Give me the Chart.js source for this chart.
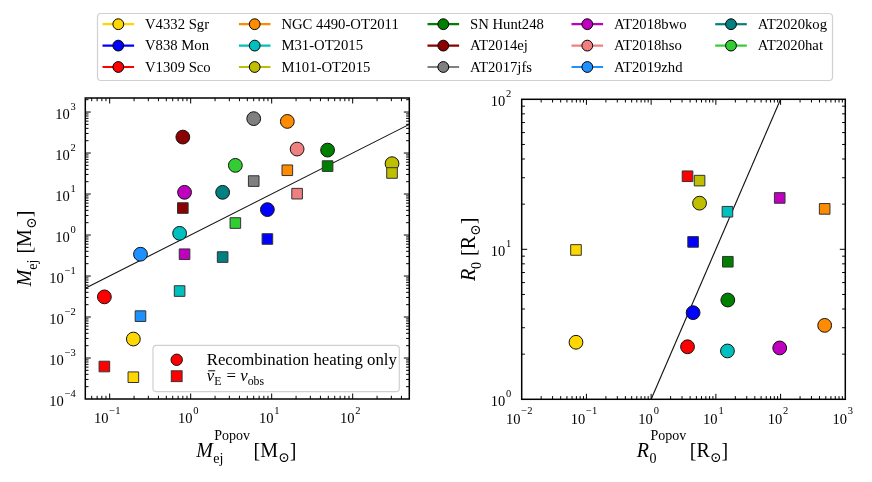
<!DOCTYPE html>
<html><head><meta charset="utf-8">
<script src="https://cdn.jsdelivr.net/npm/chart.js@4"></script>
<style>
html,body{margin:0;padding:0;background:#fff;}
#wrap{position:relative;width:872px;height:482px;overflow:hidden;}
canvas{position:absolute;left:0;top:0;}
</style></head><body>
<div id="wrap"><canvas id="left" width="872" height="482"></canvas><canvas id="right" width="872" height="482"></canvas></div>
<script>
// ---------- data ----------
const objectNames = ['V4332 Sgr','V838 Mon','V1309 Sco','NGC 4490-OT2011','M31-OT2015','M101-OT2015',
  'SN Hunt248','AT2014ej','AT2017jfs','AT2018bwo','AT2018hso','AT2019zhd','AT2020kog','AT2020hat'];
const objectColors = ['#FFD700','#0000FF','#FF0000','#FF8C00','#00BFBF','#BFBF00',
  '#008000','#8B0000','#808080','#BF00BF','#F08080','#1E90FF','#008080','#32CD32'];
// left panel: M_ej^Popov vs M_ej
const mEjPopov   = [0.196, 8.85, 0.086, 15.6, 0.73, 306, 49, 0.80, 6.0, 0.84, 20.6, 0.24, 2.48, 3.56];
const mEjRecomb  = [0.0029, 4.17, 0.031, 590, 1.10, 55, 118, 245, 690, 11.0, 125, 0.34, 11.0, 50];
const mEjVobs    = [0.00034, 0.80, 0.00062, 38, 0.043, 32.6, 48, 4.55, 20.7, 0.34, 10.2, 0.0105, 0.29, 1.96];
// right panel: R_0^Popov vs R_0
const rNames     = ['V4332 Sgr','V838 Mon','V1309 Sco','NGC 4490-OT2011','M31-OT2015','M101-OT2015','SN Hunt248','AT2018bwo'];
const r0Popov    = [0.069, 4.45, 3.65, 480, 15.1, 5.6, 15.3, 97];
const r0Recomb   = [2.40, 3.78, 2.24, 3.11, 2.10, 20.3, 4.59, 2.20];
const r0Vobs     = [9.9, 11.2, 30.7, 18.6, 17.8, 28.7, 8.26, 22.0];
// axes
const leftXRange = [0.05, 500], leftYRange = [1e-4, 2200];
const rightXRange = [0.01, 1000], rightYRange = [1, 100];
const leftXTickExp = [-1, 0, 1, 2];
const leftYTickExp = [-4, -3, -2, -1, 0, 1, 2, 3];
const rightXTickExp = [-2, -1, 0, 1, 2, 3];
const rightYTickExp = [0, 1, 2];
const oneToOneLeft = [0.05, 500];
const oneToOneRight = [1, 100];
const innerLegendLabels = ['Recombination heating only', 'vE=vobs'];

// ---------- style ----------
const SERIF = '"Liberation Serif","Times New Roman","DejaVu Serif",serif';
const TICK = 14.5, SUP = 10.5;
function font(s, it){ return (it ? 'italic ' : '') + s + 'px ' + SERIF; }

function drawPow(ctx, exp, x, y, align){
  const base = '10', sup = exp < 0 ? '\u2212' + (-exp) : String(exp);
  ctx.font = font(TICK); const w1 = ctx.measureText(base).width;
  ctx.font = font(SUP); const w2 = ctx.measureText(sup).width;
  const tot = w1 + w2 + 0.8;
  const x0 = align === 'right' ? x - tot : align === 'center' ? x - tot / 2 : x;
  ctx.textAlign = 'left'; ctx.textBaseline = 'alphabetic'; ctx.fillStyle = '#000';
  ctx.font = font(TICK); ctx.fillText(base, x0, y);
  ctx.font = font(SUP); ctx.fillText(sup, x0 + w1 + 0.8, y - 9.3);
}

function partWidth(ctx, p){
  if (p.stack) return Math.max(...p.stack.map(q => partWidth(ctx, q)));
  ctx.font = font(p.s, p.it); return ctx.measureText(p.t).width + (p.pad || 0);
}
function drawRich(ctx, parts, x, by, align){
  const ws = parts.map(p => partWidth(ctx, p));
  const tot = ws.reduce((a, b) => a + b, 0);
  let cx = align === 'left' ? x : x - tot / 2;
  const pos = [];
  ctx.textAlign = 'left'; ctx.textBaseline = 'alphabetic'; ctx.fillStyle = '#000';
  parts.forEach((p, i) => {
    const list = p.stack ? p.stack : [p];
    list.forEach(q => { ctx.font = font(q.s, q.it); ctx.fillText(q.t, cx + (q.dx || 0), by + (q.dy || 0)); });
    pos.push(cx); cx += ws[i];
  });
  return pos;
}

function drawAxesFrame(chart, xExp, yExp, yGap){
  const ctx = chart.ctx, a = chart.chartArea, xs = chart.scales.x, ys = chart.scales.y;
  ctx.save();
  ctx.strokeStyle = '#000';
  const tickSet = (sc) => {
    const out = [];
    const e0 = Math.floor(Math.log10(sc.min)) - 1, e1 = Math.ceil(Math.log10(sc.max));
    for (let e = e0; e <= e1; e++) for (let m = 1; m <= 9; m++) {
      const v = m * Math.pow(10, e);
      if (v > sc.min * 1.0001 && v < sc.max * 0.9999) out.push({p: sc.getPixelForValue(v), major: m === 1});
    }
    return out;
  };
  ctx.lineWidth = 1;
  tickSet(xs).forEach(t => {
    const L = t.major ? 5.5 : 3.2;
    ctx.beginPath();
    ctx.moveTo(t.p, a.bottom); ctx.lineTo(t.p, a.bottom - L);
    ctx.moveTo(t.p, a.top); ctx.lineTo(t.p, a.top + L);
    ctx.stroke();
  });
  tickSet(ys).forEach(t => {
    const L = t.major ? 5.5 : 3.2;
    ctx.beginPath();
    ctx.moveTo(a.left, t.p); ctx.lineTo(a.left + L, t.p);
    ctx.moveTo(a.right, t.p); ctx.lineTo(a.right - L, t.p);
    ctx.stroke();
  });
  ctx.lineWidth = 1.5;
  ctx.strokeRect(a.left, a.top, a.right - a.left, a.bottom - a.top);
  xExp.forEach(e => drawPow(ctx, e, xs.getPixelForValue(Math.pow(10, e)) - 2.5, a.bottom + 24.3, 'center'));
  yExp.forEach(e => drawPow(ctx, e, a.left - yGap, ys.getPixelForValue(Math.pow(10, e)) + 7, 'right'));
  ctx.restore();
}

function roundRect(ctx, x, y, w, h, r){
  ctx.beginPath();
  ctx.moveTo(x + r, y); ctx.lineTo(x + w - r, y); ctx.arcTo(x + w, y, x + w, y + r, r);
  ctx.lineTo(x + w, y + h - r); ctx.arcTo(x + w, y + h, x + w - r, y + h, r);
  ctx.lineTo(x + r, y + h); ctx.arcTo(x, y + h, x, y + h - r, r);
  ctx.lineTo(x, y + r); ctx.arcTo(x, y, x + r, y, r); ctx.closePath();
}

function drawTopLegend(ctx){
  const colX = [118.3, 254.7, 443.3, 587.3, 731];
  const rowY = [24.2, 45.6, 67.0];
  ctx.save();
  ctx.fillStyle = 'rgba(255,255,255,0.85)';
  ctx.strokeStyle = '#d0d0d0'; ctx.lineWidth = 1.2;
  roundRect(ctx, 97.5, 13.5, 735, 67, 3.5); ctx.fill(); ctx.stroke();
  objectNames.forEach((name, i) => {
    const cx = colX[Math.floor(i / 3)], cy = rowY[i % 3];
    ctx.strokeStyle = objectColors[i]; ctx.lineWidth = 2.2;
    ctx.beginPath(); ctx.moveTo(cx - 15.8, cy); ctx.lineTo(cx + 15.8, cy); ctx.stroke();
    ctx.beginPath(); ctx.arc(cx, cy, 5.4, 0, Math.PI * 2);
    ctx.fillStyle = objectColors[i]; ctx.fill();
    ctx.strokeStyle = '#000'; ctx.lineWidth = 1; ctx.stroke();
    ctx.fillStyle = '#000'; ctx.font = font(14.7); ctx.textAlign = 'left'; ctx.textBaseline = 'alphabetic';
    ctx.fillText(name, cx + 26.7, cy + 4.8);
  });
  ctx.restore();
}

function drawInnerLegend(ctx){
  ctx.save();
  ctx.fillStyle = 'rgba(255,255,255,0.85)'; ctx.strokeStyle = '#d0d0d0'; ctx.lineWidth = 1.2;
  roundRect(ctx, 153, 345.3, 246.3, 46.4, 3.5); ctx.fill(); ctx.stroke();
  ctx.beginPath(); ctx.arc(176.7, 359.8, 5.7, 0, Math.PI * 2);
  ctx.fillStyle = '#FF0000'; ctx.fill(); ctx.strokeStyle = '#111'; ctx.lineWidth = 1; ctx.stroke();
  ctx.fillRect(171.3, 370.8, 10.8, 10.8); ctx.strokeStyle = '#333'; ctx.strokeRect(171.3, 370.8, 10.8, 10.8);
  ctx.fillStyle = '#000'; ctx.font = font(16.8); ctx.textAlign = 'left'; ctx.textBaseline = 'alphabetic';
  ctx.fillText(innerLegendLabels[0], 206.7, 365.2);
  const pos = drawRich(ctx, [
    {t: 'v', s: 16.8, it: true},
    {t: 'E', s: 11.8, dy: 3.5, pad: 1},
    {t: ' = ', s: 16.8},
    {t: 'v', s: 16.8, it: true},
    {t: 'obs', s: 11.8, dy: 3.5}
  ], 206.7, 381.3, 'left');
  ctx.strokeStyle = '#000'; ctx.lineWidth = 1;
  ctx.beginPath(); ctx.moveTo(pos[0] + 1.5, 370.8); ctx.lineTo(pos[0] + 8.5, 370.8); ctx.stroke();
  ctx.restore();
}

function makeChart(id, cfg){
  const ds = (xs, ys, style, r, ord, bc) => ({
    data: xs.map((x, i) => ({x: x, y: ys[i]})),
    pointStyle: style, pointRadius: r, pointHoverRadius: r,
    backgroundColor: cfg.colors, borderColor: bc, borderWidth: 1, order: ord
  });
  return new Chart(document.getElementById(id), {
    type: 'scatter',
    data: {datasets: [
      {data: cfg.line.map(v => ({x: v, y: v})), showLine: true, borderColor: '#111', borderWidth: 1.1,
       pointRadius: 0, pointHoverRadius: 0, order: 3},
      ds(cfg.xs, cfg.yc, 'circle', 6.9, 2, '#111'),
      ds(cfg.xs, cfg.ysq, 'rect', 7.5, 1, '#333')
    ]},
    options: {
      responsive: false, animation: false, devicePixelRatio: 1, events: [],
      layout: {padding: {left: cfg.padLeft, right: 872 - cfg.area.right, top: cfg.area.top, bottom: 0}},
      plugins: {legend: {display: false}, tooltip: {enabled: false}},
      scales: {
        x: {type: 'logarithmic', min: cfg.xr[0], max: cfg.xr[1], grid: {display: false},
            border: {display: false}, ticks: {display: false},
            afterFit: s => { s.height = 482 - cfg.area.bottom; }},
        y: {type: 'logarithmic', min: cfg.yr[0], max: cfg.yr[1], grid: {display: false},
            border: {display: false}, ticks: {display: false},
            afterFit: s => { s.width = cfg.area.left - cfg.padLeft; }}
      }
    },
    plugins: [{id: 'deco' + id, afterDraw: chart => cfg.deco(chart)}]
  });
}

const rColors = rNames.map(n => objectColors[objectNames.indexOf(n)]);

makeChart('left', {
  xs: mEjPopov, yc: mEjRecomb, ysq: mEjVobs, colors: objectColors,
  xr: leftXRange, yr: leftYRange, line: oneToOneLeft, padLeft: 0,
  area: {left: 85.3, right: 409.3, top: 98, bottom: 399},
  deco: chart => {
    const ctx = chart.ctx;
    drawAxesFrame(chart, leftXTickExp, leftYTickExp, 9.5);
    drawInnerLegend(ctx);
    drawTopLegend(ctx);
    const cx = (chart.chartArea.left + chart.chartArea.right) / 2;
    drawRich(ctx, [
      {t: 'M', s: 20, it: true},
      {stack: [{t: 'ej', s: 14, dy: 6, dx: 0.5}, {t: 'Popov', s: 14, dy: -16.5, dx: 1.5}]},
      {t: ' [M', s: 20}, {t: '\u2299', s: 14, dy: 5}, {t: ']', s: 20}
    ], cx - 1, 456.7, 'center');
    ctx.save(); ctx.translate(30.5, (chart.chartArea.top + chart.chartArea.bottom) / 2); ctx.rotate(-Math.PI / 2);
    drawRich(ctx, [
      {t: 'M', s: 20, it: true}, {t: 'ej', s: 14, dy: 6, pad: 1},
      {t: ' [M', s: 20}, {t: '\u2299', s: 14, dy: 5}, {t: ']', s: 20}
    ], 0, 0, 'center');
    ctx.restore();
  }
});

makeChart('right', {
  xs: r0Popov, yc: r0Recomb, ysq: r0Vobs, colors: rColors,
  xr: rightXRange, yr: rightYRange, line: oneToOneRight, padLeft: 430,
  area: {left: 521.7, right: 845.3, top: 99.3, bottom: 399.3},
  deco: chart => {
    const ctx = chart.ctx;
    drawAxesFrame(chart, rightXTickExp, rightYTickExp, 10.5);
    const cx = (chart.chartArea.left + chart.chartArea.right) / 2;
    drawRich(ctx, [
      {t: 'R', s: 20, it: true},
      {stack: [{t: '0', s: 14, dy: 6, dx: 0.5}, {t: 'Popov', s: 14, dy: -16.5, dx: 1.5}]},
      {t: ' [R', s: 20}, {t: '\u2299', s: 14, dy: 5}, {t: ']', s: 20}
    ], cx - 1, 456.7, 'center');
    ctx.save(); ctx.translate(475, (chart.chartArea.top + chart.chartArea.bottom) / 2); ctx.rotate(-Math.PI / 2);
    drawRich(ctx, [
      {t: 'R', s: 20, it: true}, {t: '0', s: 14, dy: 6, pad: 1},
      {t: ' [R', s: 20}, {t: '\u2299', s: 14, dy: 5}, {t: ']', s: 20}
    ], 0, 0, 'center');
    ctx.restore();
  }
});
</script>
</body></html>
